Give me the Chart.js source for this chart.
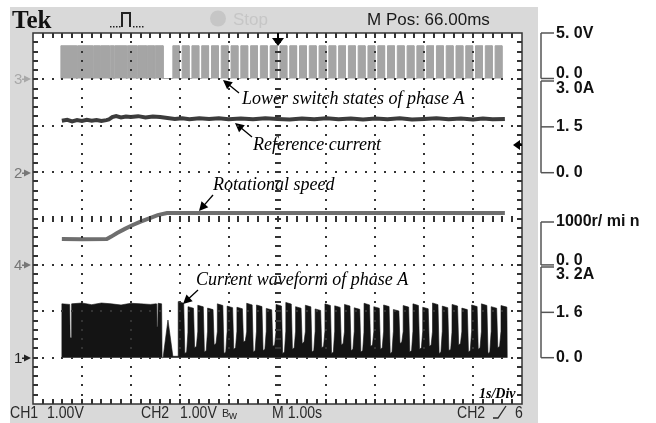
<!DOCTYPE html>
<html><head><meta charset="utf-8">
<script src="https://cdn.jsdelivr.net/npm/chart.js@4/dist/chart.umd.min.js"></script>
<style>html,body{margin:0;padding:0;background:#fff}#wrap{width:656px;height:423px;position:relative}</style>
</head><body><div id="wrap"><canvas id="c" width="656" height="423"></canvas></div>
<script>
// ---------- data ----------
// time axis: 10 divisions, 1 s/div
const timeMin = 0, timeMax = 10;
// CH3: lower switch state of phase A (V); toggle instants in s, trace starts low
const swToggleT = [0.57,
  0.89,0.91, 1.22,1.24, 1.36,1.38, 1.56,1.58, 1.65,1.67, 1.91,1.93, 2.12,2.14, 2.32,2.34, 2.48,2.50,
  2.66,2.86,
  2.99,3.05, 3.19,3.25, 3.39,3.45, 3.59,3.65, 3.79,3.85, 3.99,4.05, 4.19,4.25, 4.39,4.45, 4.59,4.65, 4.79,4.85,
  4.99,5.05, 5.19,5.25, 5.39,5.45, 5.59,5.65, 5.79,5.85, 5.99,6.05, 6.19,6.25, 6.39,6.45, 6.59,6.65, 6.79,6.85,
  6.99,7.05, 7.19,7.25, 7.39,7.45, 7.59,7.65, 7.79,7.85, 7.99,8.05, 8.19,8.25, 8.39,8.45, 8.59,8.65, 8.79,8.85,
  8.99,9.05, 9.19,9.25, 9.39,9.45, 9.59];
const swHighV = 3.6;
// CH2: reference current (A)
const refT = [0.59,0.7,0.8,0.9,1.0,1.1,1.2,1.3,1.4,1.5,1.55,1.62,1.7,1.8,1.9,2.0,2.15,2.3,2.45,2.6,2.75,2.9,3.05,3.2,3.4,3.6,3.8,4.0,4.25,4.5,4.75,5.0,5.25,5.5,5.75,6.0,6.25,6.5,6.75,7.0,7.25,7.5,7.75,8.0,8.25,8.5,8.75,9.0,9.2,9.4,9.65];
const refA = [1.70,1.73,1.68,1.72,1.69,1.73,1.70,1.72,1.69,1.72,1.74,1.82,1.85,1.81,1.84,1.82,1.85,1.81,1.84,1.82,1.79,1.76,1.78,1.75,1.78,1.76,1.78,1.75,1.77,1.75,1.78,1.76,1.74,1.77,1.75,1.78,1.75,1.77,1.74,1.77,1.75,1.78,1.74,1.76,1.78,1.75,1.77,1.74,1.77,1.75,1.76];
// CH4: rotational speed (r/min)
const spdT = [0.59,1.0,1.51,1.6,1.72,1.88,2.04,2.2,2.39,2.55,2.74,3.2,4.0,5.0,6.0,7.0,8.0,9.0,9.65];
const spdR = [604,598,604,660,744,840,930,1010,1093,1160,1210,1212,1208,1212,1210,1212,1208,1212,1210];
// CH1: phase A current (A) — dense chopped block before acceleration
const curBlockT = [0.58,0.59,0.75,0.76,0.78,0.79,1.0,1.2,1.4,1.6,1.8,2.0,2.2,2.4,2.52,2.53,2.55,2.56,2.63,2.64,2.66,2.76,2.86,2.95];
const curBlockA = [0,1.90,1.88,0.70,0.70,1.90,1.93,1.87,1.93,1.90,1.86,1.92,1.90,1.88,1.90,1.09,1.09,1.92,1.90,0,0,1.33,0.05,0.05];
// CH1: current pulses after acceleration: rise instants (s), peaks and valleys (A)
const curRiseT = [2.97,3.17,3.37,3.57,3.77,3.97,4.17,4.37,4.57,4.77,4.97,5.17,5.37,5.57,5.77,5.97,6.17,6.37,6.57,6.77,
  6.97,7.17,7.37,7.57,7.77,7.97,8.17,8.37,8.57,8.77,8.97,9.17,9.37,9.57];
const curPeakA = [1.98,1.80,1.85,1.75,1.90,1.82,1.78,1.92,1.86,1.74,1.88,1.95,1.80,1.85,1.72,1.90,1.83,1.88,1.76,1.92,
  1.80,1.86,1.70,1.84,1.90,1.78,1.93,1.82,1.88,1.75,1.86,1.90,1.80,1.84];
const curValleyA = [0.15,0.35,0.2,0.45,0.15,0.3,0.55,0.2,0.25,0.4,0.15,0.3,0.5,0.2,0.35,0.15,0.45,0.25,0.2,0.4,
  0.3,0.15,0.5,0.2,0.3,0.4,0.15,0.25,0.45,0.2,0.3,0.15,0.35];
const curEndT = 9.70;

// ---------- layout ----------
const W = 656, H = 423;
const PAD = {left:33, right:134, top:33, bottom:19};
const TOP = PAD.top, BOT = H - PAD.bottom;
function axisRange(v0,p0,v1,p1){ const k=(v1-v0)/(p0-p1); return {min:v0-(BOT-p0)*k, max:v1+(p1-TOP)*k}; }

// build point lists (x strictly non-decreasing)
const swPts = []; { let lv = 0; for (const t of swToggleT){ const nv = lv ? 0 : swHighV; swPts.push({x:t,y:lv},{x:t,y:nv}); lv = nv; } }
const refPts = refT.map((t,i)=>({x:t,y:refA[i]}));
const spdPts = spdT.map((t,i)=>({x:t,y:spdR[i]}));
const curPts = curBlockT.map((t,i)=>({x:t,y:curBlockA[i]}));
curRiseT.forEach((t,i)=>{
  const last = i===curRiseT.length-1;
  if (i===0) curPts.push({x:t,y:0.05});
  curPts.push({x:t,y:curPeakA[i]});
  if (!last){
    curPts.push({x:t+0.112,y:curPeakA[i]*0.97});
    curPts.push({x:t+0.135,y:curValleyA[i]});
    curPts.push({x:t+0.172,y:curValleyA[i]+0.05});
    curPts.push({x:t+0.198,y:0.9});
  } else {
    curPts.push({x:curEndT-0.01,y:curPeakA[i]*0.97});
    curPts.push({x:curEndT,y:0});
  }
});

const GRAY_BG = '#d9d9d9';

function arrow(ctx,x1,y1,x2,y2){
  const a = Math.atan2(y2-y1,x2-x1), L=9, w=4.5;
  ctx.strokeStyle='#000'; ctx.fillStyle='#000'; ctx.lineWidth=1.3;
  ctx.beginPath(); ctx.moveTo(x1,y1); ctx.lineTo(x2-Math.cos(a)*L*0.8,y2-Math.sin(a)*L*0.8); ctx.stroke();
  ctx.beginPath(); ctx.moveTo(x2,y2);
  ctx.lineTo(x2-L*Math.cos(a)+w*Math.sin(a), y2-L*Math.sin(a)-w*Math.cos(a));
  ctx.lineTo(x2-L*Math.cos(a)-w*Math.sin(a), y2-L*Math.sin(a)+w*Math.cos(a));
  ctx.closePath(); ctx.fill();
}

const scopePlugin = {
  id:'scope',
  beforeDraw(chart){
    const ctx = chart.ctx, a = chart.chartArea;
    ctx.save();
    ctx.fillStyle='#fff'; ctx.fillRect(0,0,W,H);
    ctx.fillStyle=GRAY_BG; ctx.fillRect(10,7,528,H-7);
    ctx.fillStyle='#fff'; ctx.fillRect(a.left,a.top,a.right-a.left,a.bottom-a.top);
    // header
    ctx.fillStyle='#111'; ctx.textBaseline='alphabetic';
    ctx.font='bold 25px "Liberation Serif"'; ctx.fillText('Tek',12,28);
    ctx.strokeStyle='#222'; ctx.lineWidth=2;
    ctx.beginPath(); ctx.moveTo(122,27); ctx.lineTo(122,13); ctx.lineTo(130,13); ctx.lineTo(130,27); ctx.stroke();
    ctx.fillStyle='#222';
    [110,113,116,119,133,136,139,142].forEach(x=>ctx.fillRect(x,26,1.5,1.5));
    ctx.fillStyle='#c6c6c6'; ctx.beginPath(); ctx.arc(218,18.5,8,0,Math.PI*2); ctx.fill();
    ctx.font='17px "Liberation Sans"'; ctx.fillText('Stop',233,25);
    ctx.fillStyle='#1a1a1a'; ctx.fillText('M Pos: 66.00ms',367,25);
    // footer
    ctx.fillStyle='#2a2a2a'; ctx.font='16px "Liberation Sans"';
    const ft=(s,x)=>{ctx.save();ctx.translate(x,418);ctx.scale(0.88,1);ctx.fillText(s,0,0);ctx.restore();};
    ft('CH1',10); ft('1.00V',47); ft('CH2',141); ft('1.00V',180); ft('M 1.00s',272); ft('CH2',457); ft('6',515);
    ctx.font='11px "Liberation Sans"'; ctx.fillText('B',222,417); ctx.fillText('w',229,419);
    ctx.strokeStyle='#2a2a2a'; ctx.lineWidth=1.3;
    ctx.beginPath(); ctx.moveTo(493,418); ctx.lineTo(498,418); ctx.lineTo(506,406); ctx.stroke();
    // channel ground markers
    const mk=(label,val,scaleId,color)=>{
      const y=Math.round(chart.scales[scaleId].getPixelForValue(val));
      ctx.fillStyle=color; ctx.font='15px "Liberation Sans"'; ctx.textBaseline='middle'; ctx.fillText(label,14,y+1);
      ctx.beginPath(); ctx.moveTo(24,y-3.5); ctx.lineTo(31,y); ctx.lineTo(24,y+3.5); ctx.closePath(); ctx.fill();
      ctx.fillRect(22,y-0.5,3,1.5);
    };
    mk('3',0,'ySw','#a8a8a8'); mk('2',0,'yRef','#777'); mk('4',0,'ySpd','#777'); mk('1',0,'yCur','#222');
    ctx.restore();
  },
  afterDatasetsDraw(chart){
    const ctx=chart.ctx, a=chart.chartArea, xs=chart.scales.x, yd=chart.scales.yDiv;
    ctx.save();
    // annotations
    ctx.fillStyle='#000'; ctx.textBaseline='alphabetic';
    ctx.font='italic 18px "Liberation Serif"';
    ctx.fillText('Lower switch states of phase A',242,104);
    ctx.fillText('Reference current',253,150);
    ctx.fillText('Rotational speed',213,190);
    ctx.fillText('Current waveform of phase A',196,285);
    arrow(ctx,239,93,223,80);
    arrow(ctx,252,137,235,123);
    arrow(ctx,213,195,199,211);
    arrow(ctx,198,290,183,304);
    ctx.font='bold italic 14px "Liberation Serif"'; ctx.fillText('1s/Div',479,398);
    // graticule
    ctx.fillStyle='#333';
    for(let i=1;i<10;i++){ if(i===5) continue; const px=Math.round(xs.getPixelForValue(i));
      for(let j=1;j<40;j++){ const py=Math.round(yd.getPixelForValue(j*0.2)); ctx.fillRect(px-1,py-1,2,2);} }
    for(let j=1;j<8;j++){ if(j===4) continue; const py=Math.round(yd.getPixelForValue(j));
      for(let i=1;i<50;i++){ const px=Math.round(xs.getPixelForValue(i*0.2)); ctx.fillRect(px-1,py-1,2,2);} }
    const cx=Math.round(xs.getPixelForValue(5)), cy=Math.round(yd.getPixelForValue(4));
    for(let j=1;j<40;j++){ const py=Math.round(yd.getPixelForValue(j*0.2)); ctx.fillRect(cx-3,py-1,6,2); }
    for(let i=1;i<50;i++){ const px=Math.round(xs.getPixelForValue(i*0.2)); ctx.fillRect(px-1,cy-3,2,6); }
    // border + ticks
    ctx.strokeStyle='#333'; ctx.lineWidth=1.5;
    ctx.strokeRect(a.left,a.top,a.right-a.left,a.bottom-a.top);
    for(let i=1;i<50;i++){ const px=Math.round(xs.getPixelForValue(i*0.2));
      ctx.fillRect(px-1,a.top,2,5); ctx.fillRect(px-1,a.bottom-5,2,5); }
    for(let j=1;j<40;j++){ const py=Math.round(yd.getPixelForValue(j*0.2));
      ctx.fillRect(a.left,py-1,5,2); ctx.fillRect(a.right-5,py-1,5,2); }
    // trigger position marker (top) and trigger level (right)
    ctx.fillStyle='#000';
    ctx.fillRect(cx-1,a.top,2,6);
    ctx.beginPath(); ctx.moveTo(cx-6,38); ctx.lineTo(cx+6,38); ctx.lineTo(cx,46); ctx.closePath(); ctx.fill();
    const ty=145;
    ctx.beginPath(); ctx.moveTo(513,ty); ctx.lineTo(520,ty-5); ctx.lineTo(520,ty+5); ctx.closePath(); ctx.fill();
    ctx.fillRect(518,ty-1,4,2);
    // right-hand unit brackets
    ctx.strokeStyle='#555'; ctx.lineWidth=1.5; ctx.fillStyle='#111'; ctx.font='bold 16px "Liberation Sans"'; ctx.textBaseline='middle';
    const bx=541, tx=556;
    const bracket=(id,ticks)=>{
      const s=chart.scales[id]; const ys=ticks.map(t=>s.getPixelForValue(t.v));
      ctx.beginPath(); ctx.moveTo(bx,Math.min(...ys)); ctx.lineTo(bx,Math.max(...ys)); ctx.stroke();
      ticks.forEach((t,k)=>{ ctx.beginPath(); ctx.moveTo(bx,ys[k]); ctx.lineTo(tx-2,ys[k]); ctx.stroke();
        ctx.fillText(t.label,tx,ys[k]+t.dy); });
    };
    bracket('ySw',[{v:5,label:'5. 0V',dy:1},{v:0,label:'0. 0',dy:-5}]);
    bracket('yRef',[{v:3,label:'3. 0A',dy:8},{v:1.5,label:'1. 5',dy:0},{v:0,label:'0. 0',dy:0}]);
    bracket('ySpd',[{v:1000,label:'1000r/ mi n',dy:0},{v:0,label:'0. 0',dy:-4}]);
    bracket('yCur',[{v:3.2,label:'3. 2A',dy:8},{v:1.6,label:'1. 6',dy:0},{v:0,label:'0. 0',dy:0}]);
    ctx.restore();
  }
};

const ln = (data,color,width,axis,fill)=>({data,borderColor:color,backgroundColor:color,borderWidth:width,
  pointRadius:0,tension:0,yAxisID:axis,fill:fill?{value:0}:false});

new Chart(document.getElementById('c'),{
  type:'line',
  data:{datasets:[
    ln(swPts,'#a5a5a5',1,'ySw',true),
    ln(refPts,'#3c3c3c',4,'yRef',false),
    ln(spdPts,'#6e6e6e',4,'ySpd',false),
    ln(curPts,'#141414',0.6,'yCur',true)
  ]},
  options:{
    responsive:false, animation:false, devicePixelRatio:1,
    layout:{padding:PAD},
    plugins:{legend:{display:false},tooltip:{enabled:false}},
    scales:{
      x:{type:'linear',min:timeMin,max:timeMax,display:false},
      yDiv:{type:'linear',min:0,max:8,display:false},
      ySw:Object.assign({type:'linear',display:false},axisRange(0,78.5,5,33)),
      yRef:Object.assign({type:'linear',display:false},axisRange(0,172.7,3,81)),
      ySpd:Object.assign({type:'linear',display:false},axisRange(0,264.9,1000,222)),
      yCur:Object.assign({type:'linear',display:false},axisRange(0,357.7,3.2,267))
    }
  },
  plugins:[scopePlugin]
});
</script></body></html>
